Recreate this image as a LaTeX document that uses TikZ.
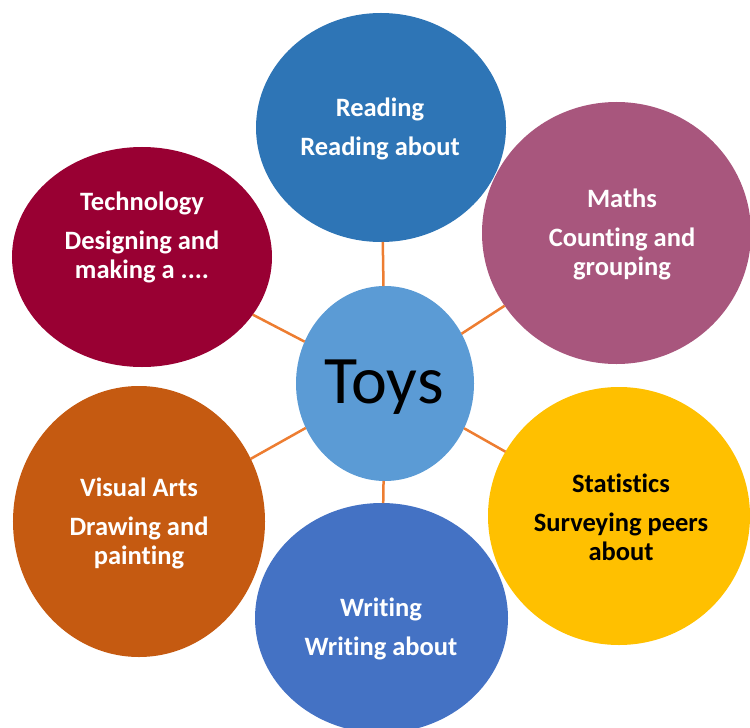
\documentclass[tikz,border=0pt]{standalone}
\usepackage{fontspec}
\setmainfont{Carlito}[Ligatures=NoCommon]
\usetikzlibrary{shapes.geometric}

\definecolor{readblue}{HTML}{2E75B6}
\definecolor{mathpink}{HTML}{A8567D}
\definecolor{techred}{HTML}{990033}
\definecolor{hubblue}{HTML}{5B9BD5}
\definecolor{artorange}{HTML}{C55A11}
\definecolor{statgold}{HTML}{FFC000}
\definecolor{writeblue}{HTML}{4472C4}
\definecolor{linkorange}{HTML}{ED7D31}

\begin{document}
\begin{tikzpicture}[x=1bp, y=-1bp,
  bubble/.style={ellipse, inner sep=0pt, outer sep=0pt, draw=none},
  link/.style={draw=linkorange, line width=2.5bp},
  caption/.style={align=center, inner sep=0pt,
    font=\fontsize{26.5bp}{29bp}\selectfont\bfseries},
  hubtext/.style={inner sep=0pt, font=\fontsize{68bp}{76bp}\selectfont}]

\useasboundingbox (0,0) rectangle (750,728);
\clip (0,0) rectangle (750,728);

% outer topic bubbles
\node[bubble, fill=readblue,  minimum width=250bp, minimum height=229bp] (reading) at (381,127.5) {};
\node[bubble, fill=mathpink,  minimum width=269bp, minimum height=262bp] (maths)   at (616.5,233) {};
\node[bubble, fill=techred,   minimum width=260bp, minimum height=220bp] (tech)    at (142,257) {};
\node[bubble, fill=artorange, minimum width=252bp, minimum height=271bp] (arts)    at (139,521.5) {};
\node[bubble, fill=statgold,  minimum width=262bp, minimum height=258bp] (stats)   at (619,516) {};
\node[bubble, fill=writeblue, minimum width=253bp, minimum height=230bp] (writing) at (381.5,618) {};

% central bubble
\node[bubble, fill=hubblue, minimum width=178bp, minimum height=195bp] (toys) at (385,383.5) {};

% spokes from the hub to each topic
\foreach \t in {reading, maths, stats, writing, arts, tech}
  \draw[link] (toys) -- (\t);

% labels
\node[hubtext, anchor=base] (toystxt) at (384,403) {Toys};
\node[caption, text=white] (readingtxt) at (380,129) {Reading\\[10bp]Reading about};
\node[caption, text=white] (mathstxt)   at (622,234) {Maths\\[10bp]Counting and\\grouping};
\node[caption, text=white] (techtxt)    at (142,237) {Technology\\[10bp]Designing and\\making a ....};
\node[caption, text=white] (artstxt)    at (139,523) {Visual Arts\\[10bp]Drawing and\\painting};
\node[caption, text=black] (statstxt)   at (621,517) {Statistics\\[10bp]Surveying peers\\about};
\node[caption, text=white] (writingtxt) at (381,629) {Writing\\[10bp]Writing about};

\end{tikzpicture}
\end{document}
